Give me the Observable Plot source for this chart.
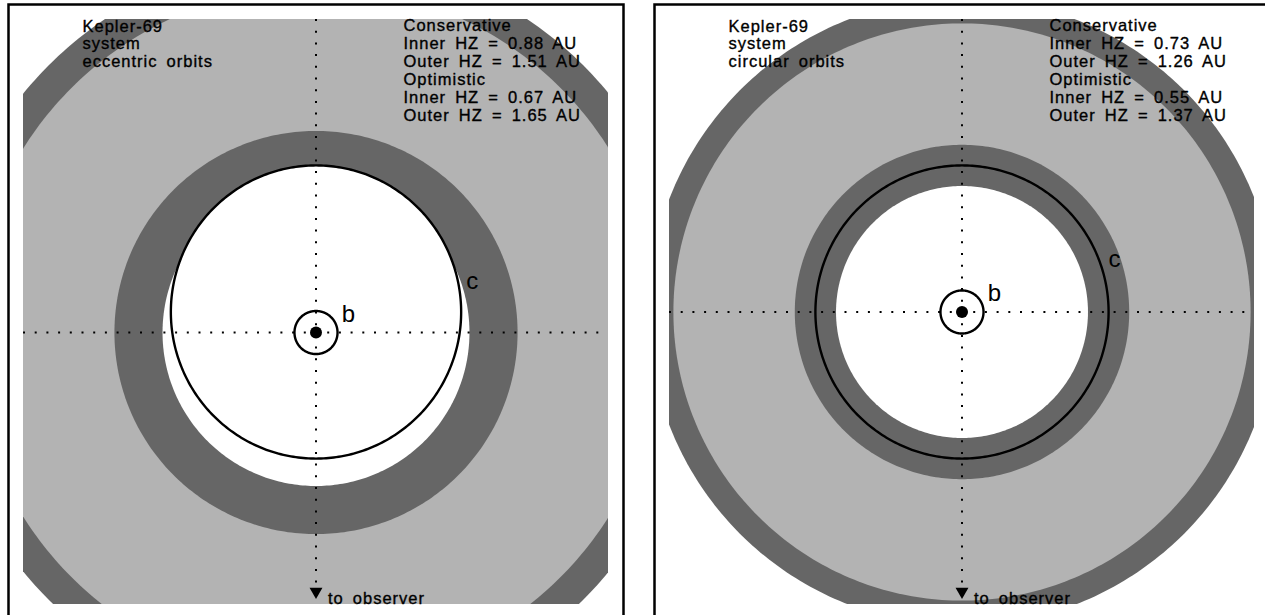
<!DOCTYPE html>
<html><head><meta charset="utf-8">
<script src="https://cdn.jsdelivr.net/npm/d3@7"></script>
<script src="https://cdn.jsdelivr.net/npm/@observablehq/plot@0.6"></script>
<style>
html,body{margin:0;padding:0;background:#fff;overflow:hidden;width:1265px;height:615px;position:relative}
.panel{position:absolute;top:0;width:632px;height:620px}
.panel svg{overflow:visible;max-width:none !important;width:632px;height:620px}
</style></head><body>
<div id="p0" class="panel" style="left:0px"></div>
<div id="p1" class="panel" style="left:646px"></div>
<script>
// ---- data ----
const systemName = "Kepler-69";
const orbitTypes = ["eccentric orbits", "circular orbits"];
const consInnerHZ = [0.88, 0.73];   // AU
const consOuterHZ = [1.51, 1.26];
const optInnerHZ  = [0.67, 0.55];
const optOuterHZ  = [1.65, 1.37];
const planetNames = ["b", "c"];
const planetSemiMajor = [0.094, 0.64];        // AU
const planetEccEccentric = [0.0, 0.14];       // eccentric-orbit panel
const planetEccCircular  = [0.0, 0.0];        // circular-orbit panel
const viewHalfWidth = [1.277, 1.277];         // AU shown either side of the view centre

// ---- styling ----
const LIGHT = "#b3b3b3", DARK = "#666666";
const FONT = "Liberation Sans, Arial, sans-serif";

function ellipse(a, e, n = 360) {
  // star at focus (0,0); periastron towards the observer (down)
  const b = a * Math.sqrt(1 - e * e), cy = a * e;
  return d3.range(n).map(i => {
    const t = 2 * Math.PI * i / n;
    return {x: b * Math.cos(t), y: cy + a * Math.sin(t)};
  });
}
function disk(r) { return ellipse(r, 0); }
function onOrbit(a, e, deg) {
  const b = a * Math.sqrt(1 - e * e), t = deg * Math.PI / 180;
  return {x: b * Math.cos(t), y: a * e + a * Math.sin(t)};
}

function panel(k) {
  const ecc = k === 0 ? planetEccEccentric : planetEccCircular;
  const half = viewHalfWidth[k];
  const yc = planetSemiMajor[1] * ecc[1];      // view centred on c's orbit centre
  const ring = (r, fill) => Plot.line(disk(r), {x: "x", y: "y", fill, stroke: null, curve: "linear-closed", clip: true});
  const labelDeg = [30, k === 0 ? 9 : 18];
  const labels = planetNames.map((name, i) => ({name, ...onOrbit(planetSemiMajor[i], ecc[i], labelDeg[i])}));
  const infoLeft = `${systemName}\nsystem\n${orbitTypes[k]}`;
  const infoRight = `Conservative\nInner HZ = ${consInnerHZ[k].toFixed(2)} AU\nOuter HZ = ${consOuterHZ[k].toFixed(2)} AU\n` +
                    `Optimistic\nInner HZ = ${optInnerHZ[k].toFixed(2)} AU\nOuter HZ = ${optOuterHZ[k].toFixed(2)} AU`;
  const txt = {textAnchor: "start", fill: "black", stroke: "black", strokeWidth: 0.35, fontSize: 16.5};
  return Plot.plot({
    width: 632, height: 620,
    marginLeft: 23, marginRight: 24, marginTop: 19, marginBottom: 16,
    x: {domain: [-half, half], axis: null},
    y: {domain: [yc - half, yc + half], axis: null},
    style: {fontFamily: FONT, background: "transparent", overflow: "visible"},
    marks: [
      ring(optOuterHZ[k], DARK),
      ring(consOuterHZ[k], LIGHT),
      ring(consInnerHZ[k], DARK),
      ring(optInnerHZ[k], "white"),
      // interior of eccentric orbits left clear
      ...planetSemiMajor.map((a, i) => ecc[i] > 0
        ? Plot.line(ellipse(a, ecc[i]), {x: "x", y: "y", curve: "linear-closed", fill: "white", stroke: null, clip: true})
        : null),
      // planet orbits
      ...planetSemiMajor.map((a, i) => Plot.line(ellipse(a, ecc[i]), {
        x: "x", y: "y", curve: "linear-closed", stroke: "black", strokeWidth: 2.4, fill: "none", clip: true})),
      // dotted sky-plane axes through the star
      Plot.ruleY([0], {stroke: "black", strokeWidth: 2, strokeDasharray: "2,9.7", clip: true}),
      Plot.ruleX([0], {stroke: "black", strokeWidth: 2, strokeDasharray: "2,9.7", insetBottom: 15, clip: true}),
      Plot.dot([0], {x: 0, frameAnchor: "bottom", dy: -13, symbol: "triangle", rotate: 180, r: 4.8, fill: "black", stroke: null}),
      Plot.text(["to observer"], {...txt, x: 0, frameAnchor: "bottom", lineAnchor: "bottom", dx: 12, dy: -1}),
      // star
      Plot.dot([0], {x: 0, y: 0, r: 6, fill: "black", stroke: null}),
      // planet labels
      Plot.text(labels, {x: "x", y: "y", text: "name", textAnchor: "start", lineAnchor: "bottom", dx: 7, fontSize: 24, fill: "black"}),
      // info text
      Plot.text([infoLeft], {...txt, frameAnchor: "top-left", lineAnchor: "top", dx: 59, dy: -0.5, lineHeight: 1.07}),
      Plot.text([infoRight], {...txt, frameAnchor: "top-left", lineAnchor: "top", dx: 380, dy: -1.5, lineHeight: 1.09}),
      // panel border
      Plot.frame({inset: -15, stroke: "black", strokeWidth: 2.5})
    ].filter(Boolean)
  });
}

[0, 1].forEach(k => {
  const svg = panel(k);
  svg.querySelectorAll("text").forEach(t => {
    if (t.getAttribute("font-size") !== "24") { t.style.letterSpacing = "1px"; t.style.wordSpacing = "3.5px"; }
  });
  document.getElementById("p" + k).append(svg);
});
</script>
</body></html>
